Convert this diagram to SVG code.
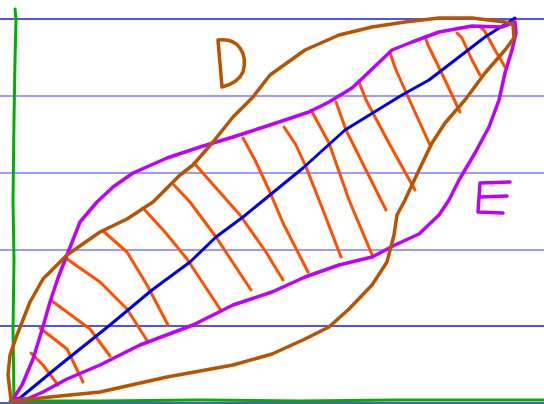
<svg xmlns="http://www.w3.org/2000/svg" width="544" height="404" viewBox="0 0 544 404">
<style>
.rule{stroke-width:1.6;fill:none}
.lt{stroke:#7a7aff}
.dk{stroke:#1a1ae6}
.pen{fill:none;stroke-linecap:round;stroke-linejoin:round}
.green{stroke:#00b000;stroke-width:3}
.blue{stroke:#0000ee;stroke-width:3}
.purple{stroke:#bf00ff;stroke-width:3.5}
.brown{stroke:#b85400;stroke-width:3.5}
.orange{stroke:#ff5000;stroke-width:3}
</style>
<rect width="544" height="404" fill="#ffffff"/>
<g id="rules">
<line class="rule dk" x1="0" y1="19" x2="544" y2="19"/>
<line class="rule lt" x1="0" y1="96" x2="544" y2="96"/>
<line class="rule lt" x1="0" y1="173" x2="544" y2="173"/>
<line class="rule lt" x1="0" y1="250" x2="544" y2="250"/>
<line class="rule dk" x1="0" y1="326" x2="544" y2="326"/>
<line class="rule dk" x1="0" y1="403" x2="544" y2="403"/>
</g>
<g id="axes">
<polyline class="pen green" points="15,9 16,20 15,60 14,120 13,200 14,260 13,330 14,400"/>
<polyline class="pen green" points="10,401 100,401 200,400 300,401 400,400 544,400"/>
</g>
<g id="hatching">
<polyline class="pen orange" points="31,353 43,365 58,385"/>
<polyline class="pen orange" points="40,328 67,349 83,382"/>
<polyline class="pen orange" points="52,301 90,329 110,356"/>
<polyline class="pen orange" points="67,259 100,282 127,309 148,342"/>
<polyline class="pen orange" points="103,231 127,252 147,285 168,325"/>
<polyline class="pen orange" points="143,208 165,232 187,259 220,309"/>
<polyline class="pen orange" points="174,185 190,202 216,237 251,290"/>
<polyline class="pen orange" points="194,163 240,215 266,252 283,280"/>
<polyline class="pen orange" points="243,138 255,160 269,190 283,223 308,272"/>
<polyline class="pen orange" points="284,127 296,145 306,167 323,210 341,257"/>
<polyline class="pen orange" points="311,110 329,143 349,200 373,257"/>
<polyline class="pen orange" points="336,102 346,130 365,168 386,210"/>
<polyline class="pen orange" points="359,82 366,100 390,145 415,190"/>
<polyline class="pen orange" points="390,53 396,70 414,110 430,145"/>
<polyline class="pen orange" points="425,37 428,45 445,80 460,112"/>
<polyline class="pen orange" points="457,33 462,38 472,60 480,75"/>
<polyline class="pen orange" points="480,27 484,30 495,50 505,67"/>
</g>
<g id="diagonal">
<polyline class="pen blue" points="12,400 20,398 60,365 110,325 152,290 190,262 216,237 243,217 303,168 345,130 402,95 429,80 459,57 485,37 515,18"/>
</g>
<g id="region-E">
<path class="pen purple" d="M13,399 L22,385 33,359 42,330 50,302 58,278 67,255 80,222 97,202 113,187 133,173 167,158 200,147 233,137 267,126 279,122 309,112 329,102 352,88 369,72 392,50 412,42 439,32 472,26 502,27 515,22 516,33 512,50 505,73 499,100 489,127 475,153 459,180 449,200 439,215 419,234 395,245 372,257 339,265 305,277 272,292 233,305 193,325 140,345 100,365 67,379 43,392 27,399 Z"/>
</g>
<g id="region-D">
<path class="pen brown" d="M11,400 L8,375 10,355 17,335 30,302 43,279 67,255 100,232 127,219 153,202 180,175 193,165 213,142 233,117 253,97 270,75 305,50 339,35 372,27 405,22 439,18 472,18 505,22 513,24 514,38 505,50 485,73 465,100 445,123 432,143 419,170 405,200 397,215 394,235 387,262 372,285 349,309 329,327 305,339 272,354 233,365 167,377 100,392 50,397 13,401 Z"/>
</g>
<g id="label-D">
<path class="pen brown" d="M218,40 L222,87 M218,40 Q233,38 240,48 Q247,58 243,72 Q238,83 222,87"/>
</g>
<g id="label-E">
<path class="pen purple" d="M510,182 L480,183 L478,212 L503,213 M480,197 L507,196"/>
</g>
</svg>
